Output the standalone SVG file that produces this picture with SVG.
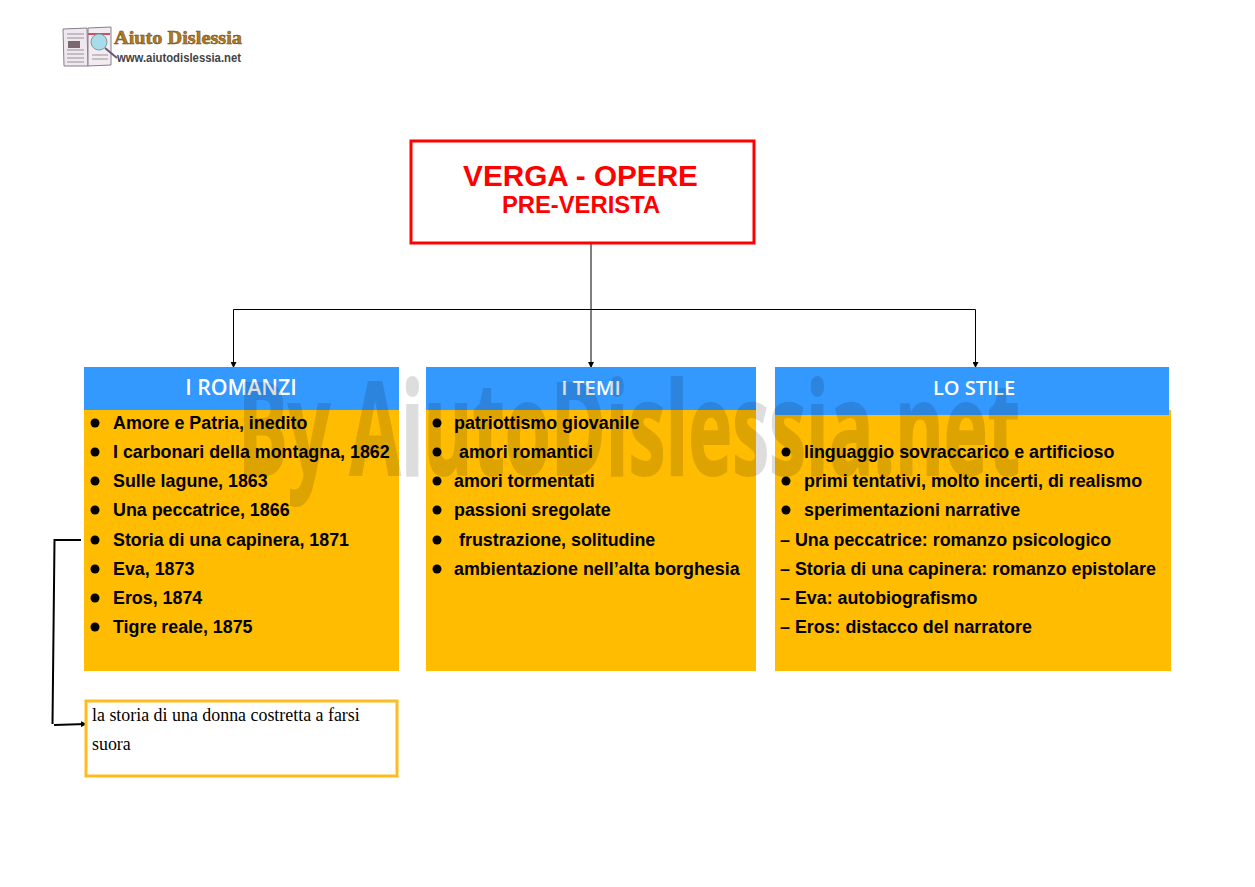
<svg xmlns="http://www.w3.org/2000/svg" width="1255" height="887" viewBox="0 0 1255 887">
<style>
text{font-family:"Liberation Sans",Arial,sans-serif}
.b{fill:#39f}.o{fill:#ffbc00}
.h{font-family:"Open Sans",sans-serif;font-size:20px;font-weight:600;fill:#fff;text-anchor:middle}
.t{font-size:17.85px;font-weight:700;fill:#000}
.d{fill:#000}
.c{fill:none;stroke:#000;stroke-width:1}
.c2{fill:none;stroke:#000;stroke-width:2}
.s{font-size:17.9px;fill:#000;font-family:"Liberation Serif",serif}
</style>
<defs>
<marker id="a" markerWidth="6" markerHeight="6" refX="5" refY="3" orient="auto" markerUnits="userSpaceOnUse"><path d="M0 0L6 3L0 6Z" fill="#000"/></marker>
<filter id="blur" x="-10%" y="-10%" width="120%" height="120%"><feGaussianBlur stdDeviation="0.5"/></filter>
</defs>
<rect width="1255" height="887" fill="#fff"/>
<g id="logo">
<g filter="url(#blur)">
<path d="M63 29L87 28L88 66L64 66Z" fill="#efe8ee" stroke="#8a7a90"/>
<path d="M88 28L111 27L111 65L88 66Z" fill="#f2ecf0" stroke="#8a7a90"/>
<path d="M67 34H84M67 38H84M67 50H84M67 54H84M67 58H84M67 62H84M92 55H108M92 59H108" stroke="#98909a" stroke-width="1"/>
<path d="M68 41H80V48H68Z" fill="#7a6a70"/>
<path d="M88 34H110" stroke="#d05060" stroke-width="2"/>
<circle cx="99" cy="42" r="8" fill="#a8dce8" stroke="#809aa0"/>
<path d="M105 48L117 58" stroke="#6a5a70" stroke-width="2"/>
</g>
<text x="114" y="44" font-size="18" font-weight="700" fill="#b47a20" stroke="#6a4a10" stroke-width=".5" style="font-family:'Liberation Serif',serif" textLength="128" lengthAdjust="spacingAndGlyphs">Aiuto Dislessia</text>
<text x="117" y="62" font-size="12.500" font-weight="700" fill="#444" textLength="124" lengthAdjust="spacingAndGlyphs">www.aiutodislessia.net</text>
</g>
<g id="connectors">
<path class="c" d="M591 243V367" marker-end="url(#a)"/>
<path class="c" d="M591 309.500H233.500V367" marker-end="url(#a)"/>
<path class="c" d="M591 309.500H975.500V367" marker-end="url(#a)"/>
<path class="c2" d="M81 540H54.500L52.500 724"/>
<path class="c2" d="M54 725L86 724" marker-end="url(#a)"/>
</g>
<g id="title">
<rect x="411" y="141" width="343" height="102" fill="#fff" stroke="#f00" stroke-width="3"/>
<text x="580.500" y="186" font-size="29.700" font-weight="700" fill="#f00" text-anchor="middle">VERGA - OPERE</text>
<text x="581" y="213" font-size="23.800" font-weight="700" fill="#f00" text-anchor="middle">PRE-VERISTA</text>
</g>
<g id="romanzi">
<rect class="o" x="84" y="410" width="315" height="261"/>
<rect class="b" x="84" y="367" width="315" height="43"/>
<text class="h" x="241" y="395" style="font-size:21.300px">I ROMANZI</text>
<g class="d"><circle cx="95" cy="423" r="4.500"/><circle cx="95" cy="452" r="4.500"/><circle cx="95" cy="481" r="4.500"/><circle cx="95" cy="510" r="4.500"/><circle cx="95" cy="540" r="4.500"/><circle cx="95" cy="569" r="4.500"/><circle cx="95" cy="598" r="4.500"/><circle cx="95" cy="627" r="4.500"/></g>
<text class="t" x="113" y="429">Amore e Patria, inedito</text>
<text class="t" x="113" y="458">I carbonari della montagna, 1862</text>
<text class="t" x="113" y="487">Sulle lagune, 1863</text>
<text class="t" x="113" y="516">Una peccatrice, 1866</text>
<text class="t" x="113" y="546">Storia di una capinera, 1871</text>
<text class="t" x="113" y="575">Eva, 1873</text>
<text class="t" x="113" y="604">Eros, 1874</text>
<text class="t" x="113" y="633">Tigre reale, 1875</text>
</g>
<g id="temi">
<rect class="o" x="426" y="410" width="330" height="261"/>
<rect class="b" x="426" y="367" width="330" height="43"/>
<text class="h" x="591" y="395" style="font-size:20.500px">I TEMI</text>
<g class="d"><circle cx="437" cy="423" r="4.500"/><circle cx="437" cy="452" r="4.500"/><circle cx="437" cy="481" r="4.500"/><circle cx="437" cy="510" r="4.500"/><circle cx="437" cy="540" r="4.500"/><circle cx="437" cy="569" r="4.500"/></g>
<text class="t" x="454" y="429">patriottismo giovanile</text>
<text class="t" x="459" y="458">amori romantici</text>
<text class="t" x="454" y="487">amori tormentati</text>
<text class="t" x="454" y="516">passioni sregolate</text>
<text class="t" x="459" y="546">frustrazione, solitudine</text>
<text class="t" x="454" y="575">ambientazione nell’alta borghesia</text>
</g>
<g id="stile">
<rect class="o" x="775" y="410" width="396" height="261"/>
<rect class="b" x="775" y="367" width="394" height="48"/>
<text class="h" x="974" y="395">LO STILE</text>
<g class="d"><circle cx="786" cy="452" r="4.500"/><circle cx="786" cy="481" r="4.500"/><circle cx="786" cy="510" r="4.500"/></g>
<text class="t" x="804" y="458">linguaggio sovraccarico e artificioso</text>
<text class="t" x="804" y="487">primi tentativi, molto incerti, di realismo</text>
<text class="t" x="804" y="516">sperimentazioni narrative</text>
<text class="t" x="780" y="546">– Una peccatrice: romanzo psicologico</text>
<text class="t" x="780" y="575">– Storia di una capinera: romanzo epistolare</text>
<text class="t" x="780" y="604">– Eva: autobiografismo</text>
<text class="t" x="780" y="633">– Eros: distacco del narratore</text>
</g>
<g id="nota">
<rect x="86" y="701" width="311" height="75" fill="#fff" stroke="#ffbc1f" stroke-width="3"/>
<text class="s" x="92" y="721">la storia di una donna costretta a farsi</text>
<text class="s" x="92" y="750">suora</text>
</g>
<text id="watermark" x="238" y="475" font-size="129" font-weight="700" fill="#000" stroke="#000" stroke-width="2" opacity=".13" style="font-family:'Open Sans',sans-serif" textLength="782" lengthAdjust="spacingAndGlyphs">By AiutoDislessia.net</text>
</svg>
